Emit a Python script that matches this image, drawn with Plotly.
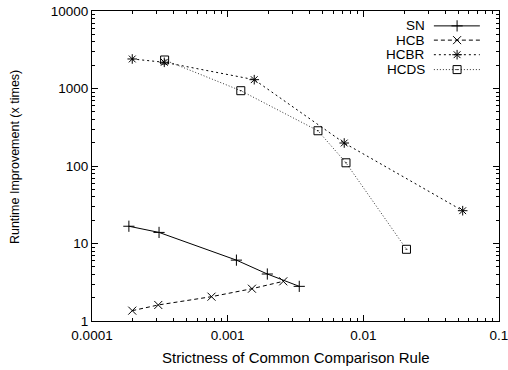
import plotly.graph_objects as go

# Data
sn_x = [1.87e-4, 3.12e-4, 1.16e-3, 1.96e-3, 3.37e-3]
sn_y = [16.7, 13.9, 6.1, 4.04, 2.8]
hcb_x = [1.98e-4, 3.08e-4, 7.6e-4, 1.51e-3, 2.57e-3]
hcb_y = [1.36, 1.61, 2.06, 2.61, 3.25]
hcbr_x = [1.98e-4, 3.41e-4, 1.57e-3, 7.23e-3, 0.054]
hcbr_y = [2404, 2178, 1300, 198, 26.5]
hcds_x = [3.43e-4, 1.25e-3, 4.63e-3, 7.45e-3, 0.0208]
hcds_y = [2333, 937, 285, 110, 8.42]

x_ticks = [0.0001, 0.001, 0.01, 0.1]
x_ticktext = ["0.0001", "0.001", "0.01", "0.1"]
y_ticks = [1, 10, 100, 1000, 10000]
y_ticktext = ["1", "10", "100", "1000", "10000"]

series = [
    ("SN", sn_x, sn_y, "solid", "cross-thin-open", 8, "#000"),
    ("HCB", hcb_x, hcb_y, "4px,3px", "x-thin-open", 8, "#000"),
    ("HCBR", hcbr_x, hcbr_y, "2px,3px", "asterisk-open", 8, "#000"),
    ("HCDS", hcds_x, hcds_y, "1px,2px", "square-open-dot", 8, "#333"),
]

FONT = "Liberation Sans, Arial, sans-serif"
fig = go.Figure()
for name, xs, ys, dash, sym, size, col in series:
    fig.add_trace(go.Scatter(
        x=xs, y=ys, mode="lines+markers", name=name,
        line=dict(color=col, width=1, dash=dash),
        marker=dict(symbol=sym, size=size, color="#000", line=dict(width=1, color="#000")),
        showlegend=False))

# custom gnuplot-style legend (text right-aligned, sample to the right)
leg_y = [0.952, 0.906, 0.859, 0.811]
for (name, xs, ys, dash, sym, size, col), ly in zip(series, leg_y):
    fig.add_trace(go.Scatter(
        x=[0.840, 0.897, 0.953], y=[ly, ly, ly], xaxis="x2", yaxis="y2",
        mode="lines", line=dict(color=col, width=1, dash=dash),
        showlegend=False, hoverinfo="skip"))
    fig.add_trace(go.Scatter(
        x=[0.897], y=[ly], xaxis="x2", yaxis="y2", mode="markers",
        marker=dict(symbol=sym, size=size, color="#000", line=dict(width=1, color="#000")),
        showlegend=False, hoverinfo="skip"))
    fig.add_annotation(x=0.824, y=ly, xref="x2", yref="y2", text=name,
                       showarrow=False, xanchor="right", yanchor="middle",
                       font=dict(family=FONT, size=13.5, color="#000"))

axis_common = dict(
    type="log", showgrid=False, zeroline=False, showline=True, automargin=False,
    linecolor="#000", linewidth=1, mirror="allticks",
    ticks="inside", ticklen=6, tickcolor="#000", ticklabeloverflow="allow",
    minor=dict(ticks="inside", ticklen=3, tickcolor="#000", dtick="D1", showgrid=False),
    tickfont=dict(family=FONT, size=13.5, color="#000"),
)

fig.update_layout(
    width=508, height=370,
    margin=dict(l=92, r=9, t=11, b=49),
    paper_bgcolor="white", plot_bgcolor="white",
    xaxis=dict(axis_common, range=[-4, -1], tickvals=x_ticks, ticktext=x_ticktext,
               ticklabelstandoff=2),
    yaxis=dict(axis_common, range=[0, 4], tickvals=y_ticks, ticktext=y_ticktext),
    xaxis2=dict(overlaying="x", range=[0, 1], visible=False, anchor="y2"),
    yaxis2=dict(overlaying="y", range=[0, 1], visible=False, anchor="x2"),
    font=dict(family=FONT, color="#000"),
)

fig.add_annotation(text="Strictness of Common Comparison Rule", xref="paper", yref="paper",
                   x=0.5, y=-0.119, showarrow=False, xanchor="center", yanchor="middle",
                   font=dict(family=FONT, size=15, color="#000"))
fig.add_annotation(text="Runtime Improvement (x times)", xref="paper", yref="paper",
                   x=-0.189, y=0.529, showarrow=False, xanchor="center", yanchor="middle",
                   textangle=-90, font=dict(family=FONT, size=12.5, color="#000"))

# remove the default 8px page margin so the figure fills the window exactly
fig.write_html("out.html", config={"displayModeBar": False},
               post_script="document.body.style.margin='0';document.body.style.padding='0';")
